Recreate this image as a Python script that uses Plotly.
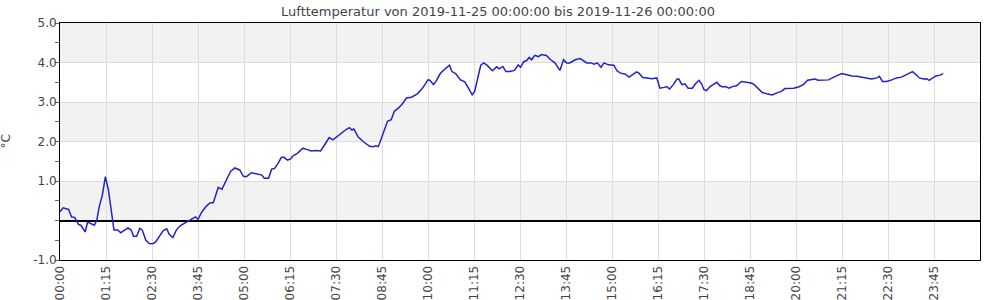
import plotly.graph_objects as go
import pandas as pd

# time of day (HH:MM) and air temperature (°C)
times = [
    "00:00", "00:05", "00:14", "00:19", "00:24", "00:30", "00:34", "00:41", "00:45", "00:50",
    "00:56", "01:00", "01:04", "01:09", "01:14", "01:19", "01:24", "01:28", "01:34", "01:39",
    "01:46", "01:51", "01:56", "02:00", "02:05", "02:10", "02:14", "02:20", "02:26", "02:32",
    "02:36", "02:43", "02:48", "02:54", "02:58", "03:04", "03:10", "03:17", "03:25", "03:32",
    "03:37", "03:41", "03:45", "03:51", "03:59", "04:05", "04:10", "04:15", "04:18", "04:24",
    "04:32", "04:38", "04:45", "04:53", "04:59", "05:04", "05:12", "05:21", "05:29", "05:33",
    "05:40", "05:45", "05:50", "05:56", "06:01", "06:05", "06:11", "06:16", "06:20", "06:27",
    "06:36", "06:42", "06:50", "06:57", "07:05", "07:12", "07:19", "07:25", "07:31", "07:39",
    "07:47", "07:52", "07:56", "07:59", "08:06", "08:14", "08:20", "08:25", "08:31", "08:35",
    "08:39", "08:42", "08:47", "08:54", "09:00", "09:05", "09:12", "09:18", "09:25", "09:33",
    "09:42", "09:50", "09:55", "10:00", "10:03", "10:09", "10:13", "10:20", "10:28", "10:35",
    "10:39", "10:45", "10:53", "11:00", "11:06", "11:12", "11:16", "11:22", "11:26", "11:31",
    "11:37", "11:45", "11:52", "11:56", "12:02", "12:07", "12:13", "12:21", "12:27", "12:31",
    "12:36", "12:41", "12:45", "12:49", "12:54", "13:00", "13:05", "13:13", "13:20", "13:27",
    "13:35", "13:41", "13:46", "13:51", "14:00", "14:08", "14:13", "14:19", "14:26", "14:31",
    "14:36", "14:42", "14:47", "14:54", "15:03", "15:08", "15:14", "15:21", "15:28", "15:35",
    "15:40", "15:44", "15:50", "15:57", "16:05", "16:13", "16:18", "16:25", "16:29", "16:34",
    "16:40", "16:46", "16:49", "16:54", "16:59", "17:04", "17:11", "17:16", "17:22", "17:26",
    "17:30", "17:34", "17:40", "17:45", "17:51", "17:56", "18:01", "18:05", "18:11", "18:16",
    "18:23", "18:31", "18:40", "18:47", "18:52", "18:59", "19:05", "19:14", "19:21", "19:29",
    "19:36", "19:42", "19:47", "19:56", "20:04", "20:12", "20:19", "20:26", "20:31", "20:36",
    "20:45", "20:53", "21:04", "21:15", "21:23", "21:31", "21:39", "21:47", "21:55", "22:03",
    "22:12", "22:16", "22:21", "22:28", "22:36", "22:44", "22:52", "22:59", "23:05", "23:10",
    "23:16", "23:21", "23:28", "23:33", "23:37", "23:43", "23:48", "23:55", "24:00",
]
temps = [
    0.22, 0.32, 0.28, 0.09, 0.08, -0.10, -0.12, -0.29, -0.04, -0.07,
    -0.12, 0.01, 0.35, 0.64, 1.11, 0.77, 0.18, -0.24, -0.24, -0.31,
    -0.24, -0.19, -0.24, -0.40, -0.40, -0.20, -0.24, -0.50, -0.59, -0.58,
    -0.54, -0.37, -0.26, -0.21, -0.35, -0.43, -0.23, -0.12, -0.05, 0.01,
    0.04, 0.09, 0.03, 0.21, 0.37, 0.45, 0.45, 0.70, 0.84, 0.79,
    1.05, 1.24, 1.33, 1.28, 1.12, 1.11, 1.21, 1.18, 1.15, 1.07,
    1.07, 1.30, 1.32, 1.46, 1.60, 1.60, 1.53, 1.56, 1.64, 1.70,
    1.83, 1.80, 1.76, 1.77, 1.76, 1.93, 2.10, 2.04, 2.12, 2.21,
    2.31, 2.35, 2.29, 2.32, 2.12, 2.00, 1.94, 1.88, 1.87, 1.89,
    1.87, 2.00, 2.21, 2.51, 2.55, 2.76, 2.85, 2.95, 3.10, 3.12,
    3.20, 3.33, 3.44, 3.56, 3.55, 3.44, 3.52, 3.72, 3.84, 3.93,
    3.77, 3.72, 3.56, 3.51, 3.35, 3.18, 3.27, 3.65, 3.93, 3.99,
    3.92, 3.79, 3.89, 3.84, 3.90, 3.77, 3.77, 3.80, 3.94, 3.88,
    4.02, 4.05, 4.13, 4.07, 4.18, 4.15, 4.20, 4.18, 4.07, 3.99,
    3.80, 4.07, 3.99, 3.99, 4.07, 4.10, 4.05, 3.99, 3.99, 3.96,
    3.99, 3.88, 3.99, 3.94, 3.93, 3.79, 3.73, 3.71, 3.63, 3.71,
    3.76, 3.73, 3.62, 3.61, 3.59, 3.61, 3.35, 3.37, 3.39, 3.33,
    3.44, 3.58, 3.58, 3.44, 3.46, 3.35, 3.35, 3.46, 3.55, 3.46,
    3.31, 3.29, 3.39, 3.44, 3.50, 3.41, 3.38, 3.39, 3.35, 3.39,
    3.41, 3.52, 3.50, 3.48, 3.44, 3.33, 3.24, 3.20, 3.18, 3.23,
    3.27, 3.34, 3.34, 3.35, 3.38, 3.44, 3.55, 3.56, 3.58, 3.55,
    3.55, 3.56, 3.65, 3.72, 3.69, 3.66, 3.65, 3.63, 3.61, 3.58,
    3.61, 3.65, 3.52, 3.52, 3.56, 3.61, 3.63, 3.69, 3.72, 3.77,
    3.69, 3.61, 3.58, 3.59, 3.55, 3.61, 3.66, 3.68, 3.72,
]

x_tick_labels = ["00:00", "01:15", "02:30", "03:45", "05:00", "06:15", "07:30", "08:45",
                 "10:00", "11:15", "12:30", "13:45", "15:00", "16:15", "17:30", "18:45",
                 "20:00", "21:15", "22:30", "23:45"]
y_tick_values = [-1, 0, 1, 2, 3, 4, 5]
y_tick_labels = ["-1.0", "", "1.0", "2.0", "3.0", "4.0", "5.0"]
band_ranges = [(0, 1), (2, 3), (4, 5)]

day = pd.Timestamp("2019-11-25 00:00:00")


def to_ts(hhmm):
    h, m = hhmm.split(":")
    return day + pd.Timedelta(minutes=int(h) * 60 + int(m))


x = [to_ts(t) for t in times]
x_tick_vals = [to_ts(t) for t in x_tick_labels]

fig = go.Figure()
fig.add_trace(go.Scatter(
    x=x, y=temps, mode="lines",
    line=dict(color="#2222cc", width=1.5),
    showlegend=False, hoverinfo="x+y",
))

shapes = []
for lo, hi in band_ranges:
    shapes.append(dict(type="rect", xref="paper", yref="y", x0=0, x1=1, y0=lo, y1=hi,
                       fillcolor="#f2f2f2", line=dict(width=0), layer="below"))

tick_font = dict(family="DejaVu Sans", size=12, color="#444444")

fig.update_layout(
    width=1000, height=300,
    margin=dict(l=60, r=20, t=23, b=40),
    paper_bgcolor="white", plot_bgcolor="white",
    title=dict(text="Lufttemperatur von 2019-11-25 00:00:00 bis 2019-11-26 00:00:00",
               x=0.498, xanchor="center", y=1 - 11 / 300, yanchor="middle",
               font=dict(family="DejaVu Sans", size=13, color="#444444")),
    shapes=shapes,
    annotations=[dict(text="°C", xref="paper", yref="paper", x=-55 / 920, y=0.5,
                      xanchor="center", yanchor="middle", textangle=-90, showarrow=False,
                      font=dict(family="DejaVu Sans", size=12, color="#444444"))],
    xaxis=dict(
        type="date", automargin=False,
        range=[day, day + pd.Timedelta(minutes=1500)],
        tickmode="array", tickvals=x_tick_vals, ticktext=x_tick_labels, tickangle=-90,
        tickfont=tick_font, ticks="", showgrid=True, gridcolor="#dddddd", gridwidth=1,
        showline=True, linecolor="black", linewidth=1, mirror=True, zeroline=False,
    ),
    yaxis=dict(
        range=[-1, 5], automargin=False,
        tickmode="array", tickvals=y_tick_values, ticktext=y_tick_labels,
        tickfont=tick_font, ticks="", showgrid=True, gridcolor="#dddddd", gridwidth=1,
        zeroline=True, zerolinecolor="black", zerolinewidth=2,
        showline=True, linecolor="black", linewidth=1, mirror=True,
        minor=dict(dtick=0.5, tick0=0, ticks="outside", ticklen=4, tickcolor="#666666",
                   showgrid=False),
    ),
)

fig.write_html("out.html")
